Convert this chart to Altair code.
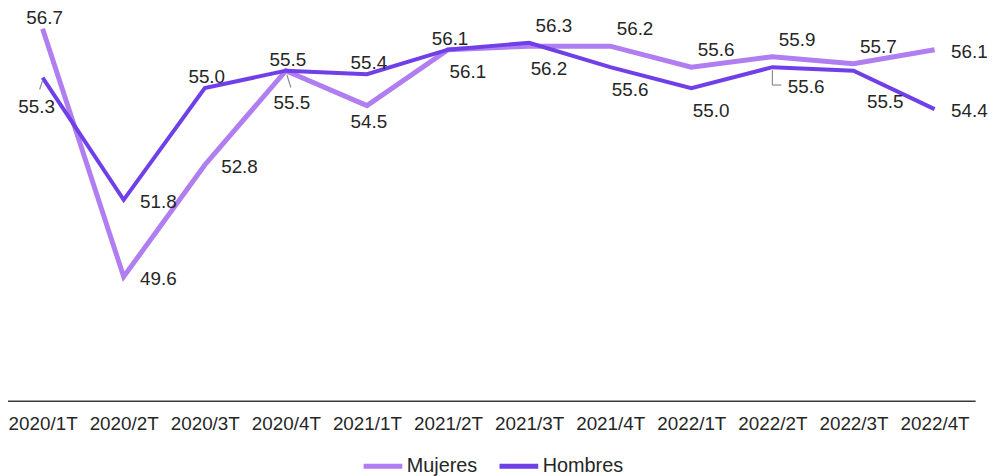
import altair as alt
import pandas as pd

quarters = ["2020/1T", "2020/2T", "2020/3T", "2020/4T", "2021/1T", "2021/2T",
            "2021/3T", "2021/4T", "2022/1T", "2022/2T", "2022/3T", "2022/4T"]
mujeres = [56.7, 49.6, 52.8, 55.5, 54.5, 56.1, 56.2, 56.2, 55.6, 55.9, 55.7, 56.1]
hombres = [55.3, 51.8, 55.0, 55.5, 55.4, 56.1, 56.3, 55.6, 55.0, 55.6, 55.5, 54.4]
series_names = ["Mujeres", "Hombres"]
series_colors = ["#b07ef1", "#6f3fe8"]

# where each data label sits relative to its point (named placements)
mujeres_label_pos = ["n", "e", "e", "sfar", "s", "se", "se", "ne", "ne", "ne", "ne", "e"]
hombres_label_pos = ["sw", "e", "n", "n", "n", "n", "ne", "se", "se", "se2", "sefar", "e"]
placements = {"n": (2, -11), "ne": (25, -17), "e": (35, 2), "s": (2, 17),
              "se": (20, 23), "se2": (34, 20), "sfar": (6, 33), "sw": (-6, 30),
              "sefar": (32, 32)}

# small leader lines: (serie, quarter, xOffset, yOffset, x2Offset, y2Offset)
leaders = [
    ("Hombres", "2020/1T", 0, 3, -3, 12),
    ("Mujeres", "2020/4T", 1, 4, 5, 17),
    ("Hombres", "2022/2T", 0, 3, 0, 18),
    ("Hombres", "2022/2T", 0, 18, 9, 18),
]

rows = []
for q, v, p in zip(quarters, mujeres, mujeres_label_pos):
    rows.append({"quarter": q, "serie": "Mujeres", "value": v, "pos": p})
for q, v, p in zip(quarters, hombres, hombres_label_pos):
    rows.append({"quarter": q, "serie": "Hombres", "value": v, "pos": p})
df = pd.DataFrame(rows)

FONT = "Liberation Sans"

x_enc = alt.X("quarter:N", sort=quarters,
              scale=alt.Scale(type="point", padding=0.5),
              axis=alt.Axis(title=None, labelAngle=0, ticks=False, grid=False,
                            domainColor="#3a3a3a", domainWidth=1.5,
                            labelFontSize=19, labelFont=FONT, labelColor="#262626",
                            labelPadding=14))
y_enc = alt.Y("value:Q", scale=alt.Scale(domain=[46.05, 57.155], nice=False, zero=False),
              axis=None)
color_enc = alt.Color("serie:N",
                      scale=alt.Scale(domain=series_names, range=series_colors),
                      legend=alt.Legend(title=None, orient="none", direction="horizontal",
                                        legendX=362, legendY=435,
                                        symbolType="stroke", symbolSize=1521,
                                        symbolStrokeWidth=5, labelFontSize=20,
                                        labelFont=FONT, labelColor="#262626",
                                        labelOffset=2, columnPadding=11, padding=0))

base = alt.Chart(df)

line_m = base.transform_filter(alt.datum.serie == "Mujeres").mark_line(
    strokeWidth=5).encode(x=x_enc, y=y_enc, color=color_enc)
line_h = base.transform_filter(alt.datum.serie == "Hombres").mark_line(
    strokeWidth=4).encode(x=x_enc, y=y_enc, color=color_enc)

layers = [line_m, line_h]

for serie, q, xo, yo, x2o, y2o in leaders:
    layers.append(
        base.transform_filter(
            (alt.datum.serie == serie) & (alt.datum.quarter == q)
        ).mark_rule(color="#8c8c8c", strokeWidth=1.2,
                    xOffset=xo, yOffset=yo, x2Offset=x2o, y2Offset=y2o
        ).encode(x=x_enc, y=y_enc, x2="quarter:N", y2="value:Q")
    )

for name, (dx, dy) in placements.items():
    layers.append(
        base.transform_filter(alt.datum.pos == name).mark_text(
            dx=dx, dy=dy, fontSize=19, font=FONT, color="#262626",
            align="center", baseline="middle"
        ).encode(x=x_enc, y=y_enc, text=alt.Text("value:Q", format=".1f"))
    )

chart = alt.layer(*layers).properties(
    width=981, height=391,
    padding={"left": -6, "top": 3, "right": 16, "bottom": 74},
    autosize="none",
).configure_view(stroke=None)

chart.save("out.html", embed_options={"renderer": "svg", "actions": False})
